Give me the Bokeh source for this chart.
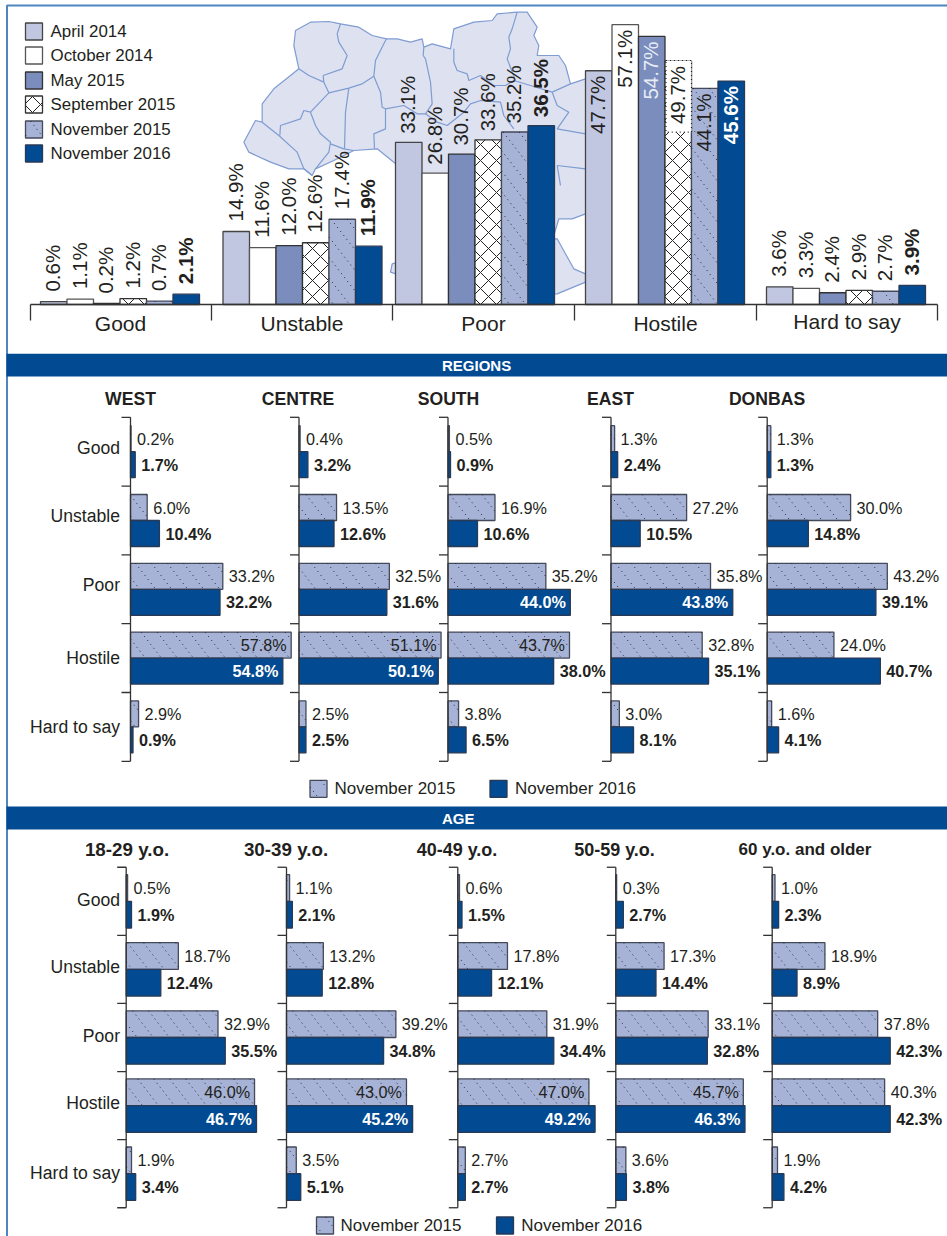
from math import pi, floor, ceil
from bokeh.core.properties import value
from bokeh.embed import file_html
from bokeh.models import Range1d
from bokeh.plotting import figure
from bokeh.resources import INLINE

# ---------- data ----------
CATEGORIES = ["Good", "Unstable", "Poor", "Hostile", "Hard to say"]
WAVES = ["April 2014", "October 2014", "May 2015", "September 2015", "November 2015", "November 2016"]
april_2014 = [0.6, 14.9, 33.1, 47.7, 3.6]
october_2014 = [1.1, 11.6, 26.8, 57.1, 3.3]
may_2015 = [0.2, 12.0, 30.7, 54.7, 2.4]
september_2015 = [1.2, 12.6, 33.6, 49.7, 2.9]
november_2015 = [0.7, 17.4, 35.2, 44.1, 2.7]
november_2016 = [2.1, 11.9, 36.5, 45.6, 3.9]

west_15 = [0.2, 6.0, 33.2, 57.8, 2.9]
west_16 = [1.7, 10.4, 32.2, 54.8, 0.9]
centre_15 = [0.4, 13.5, 32.5, 51.1, 2.5]
centre_16 = [3.2, 12.6, 31.6, 50.1, 2.5]
south_15 = [0.5, 16.9, 35.2, 43.7, 3.8]
south_16 = [0.9, 10.6, 44.0, 38.0, 6.5]
east_15 = [1.3, 27.2, 35.8, 32.8, 3.0]
east_16 = [2.4, 10.5, 43.8, 35.1, 8.1]
donbas_15 = [1.3, 30.0, 43.2, 24.0, 1.6]
donbas_16 = [1.3, 14.8, 39.1, 40.7, 4.1]

age18_15 = [0.5, 18.7, 32.9, 46.0, 1.9]
age18_16 = [1.9, 12.4, 35.5, 46.7, 3.4]
age30_15 = [1.1, 13.2, 39.2, 43.0, 3.5]
age30_16 = [2.1, 12.8, 34.8, 45.2, 5.1]
age40_15 = [0.6, 17.8, 31.9, 47.0, 2.7]
age40_16 = [1.5, 12.1, 34.4, 49.2, 2.7]
age50_15 = [0.3, 17.3, 33.1, 45.7, 3.6]
age50_16 = [2.7, 14.4, 32.8, 46.3, 3.8]
age60_15 = [1.0, 18.9, 37.8, 40.3, 1.9]
age60_16 = [2.3, 8.9, 42.3, 42.3, 4.2]

# ---------- styling / layout ----------
W, H = 947, 1236
INK = "#231F20"
NAVY = "#024A91"
C_APR, C_MAY, C_NOV = "#C1C7E1", "#7A8DBD", "#A6B3D6"
SANS = "Liberation Sans"

DOTTED = dict(fill_color=C_NOV, line_color="#444a5a", line_width=1.3)
CROSS = dict(fill_color="white", hatch_pattern="diagonal_cross", hatch_color="#222222", hatch_scale=16, hatch_weight=1, line_color="#333333", line_width=1.3)
SOLID_NAVY = dict(fill_color=NAVY, line_color="#2a3a55", line_width=1.3)
WAVE_STYLES = [
    dict(fill_color=C_APR, line_color="#444444", line_width=1.3),
    dict(fill_color="white", line_color="#555555", line_width=1.3),
    dict(fill_color=C_MAY, line_color="#333333", line_width=1.3),
    CROSS,
    DOTTED,
    SOLID_NAVY,
]

p = figure(width=W, height=H, x_range=Range1d(0, W), y_range=Range1d(H, 0), x_axis_type=None, y_axis_type=None,
           output_backend="svg", toolbar_location=None, min_border=0, outline_line_color=None, margin=0)
p.grid.visible = False


def txt(x, y, t, font=SANS, size=16, bold=False, color=INK, align="left", base="middle", **kw):
    p.text(x=x, y=y, text=t, text_font=value(font), text_font_size=value(f"{size}px"),
           text_font_style="bold" if bold else "normal", text_color=color, text_align=align, text_baseline=base, **kw)


def z(points, ox=240, oy=5):
    return [ox + a / 3 for a, _ in points], [oy + b / 3 for _, b in points]


def dotted_hatch(rects):
    """Dotted backslash lines clipped to screen rectangles (left, right, top, bottom)."""
    sx, sy = [], []
    slope, step = 0.78, 16.0
    for l, r, t, b in rects:
        c0 = floor((l - slope * b) / step)
        c1 = ceil((r - slope * t) / step)
        for c in range(c0, c1 + 1):
            cc = c * step
            y0 = max(t, (l - cc) / slope)
            y1 = min(b, (r - cc) / slope)
            if y1 - y0 > 0.5:
                sx.append([cc + slope * y0, cc + slope * y1])
                sy.append([y0, y1])
    p.multi_line(sx, sy, line_color="#1c2238", line_width=1, line_dash="1 4")


# ---------- background map (decoration) ----------
MAP_FILL, MAP_LINE = "#DDE1F0", "#7F9CD2"
outline = [(10, 410), (45, 345), (65, 350), (65, 295), (100, 250), (150, 210), (175, 190), (160, 120), (165, 75), (210, 50),
           (265, 48), (300, 55), (355, 65), (395, 90), (438, 100), (470, 100), (510, 110), (545, 100), (550, 125), (575, 115),
           (630, 130), (640, 70), (700, 50), (755, 45), (770, 25), (830, 20), (860, 20), (890, 65), (880, 90), (895, 120),
           (890, 150), (955, 150), (975, 180), (990, 235), (1035, 220), (1200, 225), (1330, 370), (1345, 470), (1250, 495), (1130, 600),
           (1035, 625), (995, 640), (955, 640), (940, 690), (700, 700), (460, 470), (410, 430), (340, 435), (280, 465), (225, 490),
           (215, 510), (190, 490), (145, 490), (90, 470), (25, 440)]
crimea = [(950, 700), (1000, 790), (1035, 805), (1035, 830), (950, 865), (700, 880), (450, 800), (455, 775), (700, 700)]
borders = [
    [(175, 190), (205, 210), (250, 230), (248, 210), (305, 190), (320, 150), (295, 110), (290, 85), (300, 55)],
    [(250, 230), (265, 262), (325, 248), (365, 235), (400, 212), (405, 165), (430, 115), (438, 100)],
    [(400, 212), (420, 260), (425, 305), (435, 310), (490, 300), (530, 325), (555, 325), (575, 295), (570, 230), (555, 160), (548, 150), (550, 125)],
    [(435, 310), (435, 370), (400, 385), (402, 430)],
    [(265, 262), (210, 320), (190, 315), (180, 340), (120, 360), (118, 390)],
    [(65, 350), (115, 390), (170, 440), (190, 490), (215, 510)],
    [(325, 248), (315, 320), (312, 430)],
    [(210, 320), (225, 360), (240, 385), (270, 410), (265, 440), (225, 490)],
    [(270, 415), (310, 430), (340, 435)],
    [(640, 130), (640, 170), (650, 195), (680, 205), (685, 225), (720, 210), (760, 240), (795, 240), (820, 225), (870, 240), (935, 260), (990, 235)],
    [(830, 20), (815, 70), (805, 95), (810, 130), (800, 160), (825, 225)],
    [(555, 325), (590, 350), (620, 360), (670, 320), (690, 295), (720, 285), (780, 290), (790, 330), (820, 370)],
    [(935, 260), (950, 300), (985, 320), (950, 370), (1035, 385), (1200, 390)],
    [(950, 480), (1035, 490), (1130, 480)],
    [(950, 480), (960, 540)],
]
xs, ys = z(outline)
p.patch(xs, ys, fill_color=MAP_FILL, line_color=MAP_LINE, line_width=1.2)
xs, ys = z(crimea)
p.patch(xs, ys, fill_color=MAP_FILL, line_color=MAP_LINE, line_width=1.2)
p.multi_line([z(b)[0] for b in borders], [z(b)[1] for b in borders], line_color=MAP_LINE, line_width=1.2)

# ---------- frame ----------
FRAME = "#4F86C0"
p.line([6.5, 6.5, W], [H, 5, 5], line_color=FRAME, line_width=2)

# ---------- top chart ----------
TOP_ZERO, TOP_K = 304.0, 4.9
p.extra_y_ranges["top"] = Range1d((TOP_ZERO - H) / TOP_K, TOP_ZERO / TOP_K)
GROUP_LEFT = [40.0, 222.5, 395.0, 585.0, 766.0]
BAR_W = 26.5
TOP_SERIES = [april_2014, october_2014, may_2015, september_2015, november_2015, november_2016]
for i, (vals, st) in enumerate(zip(TOP_SERIES, WAVE_STYLES)):
    x = [g + BAR_W * (i + 0.5) for g in GROUP_LEFT]
    p.vbar(x=x, width=BAR_W, top=vals, bottom=0, y_range_name="top", **st)
    if st is DOTTED:
        dotted_hatch([(g + BAR_W * i, g + BAR_W * (i + 1), TOP_ZERO - TOP_K * v, TOP_ZERO) for g, v in zip(GROUP_LEFT, vals)])

# white plate behind the 49.7% label
p.quad(left=665.5, right=691, top=60, bottom=131.7, fill_color="white", line_color="#222222", line_width=1.2, line_dash="1 3")

for i, vals in enumerate(TOP_SERIES):
    bold = i == 5
    for g, v in enumerate(vals):
        x = GROUP_LEFT[g] + BAR_W * (i + 0.5) - 0.8
        inside = g == 3
        colour = "white" if inside and i == 5 else INK
        if i == 2 and inside:
            colour = "#E8ECF6"
        gap = 8.5 if g == 2 else 10
        txt([x], [v], [f"{v:.1f}%"], size=20.5, bold=bold, color=colour,
            align="right" if inside else "left", angle=pi / 2, y_range_name="top",
            y_offset=5 if inside else -gap)

AXIS_COL = "#333333"
TICKS_X = [30, 211, 392, 574, 756, 937]
p.segment(x0=30, x1=937, y0=304, y1=304, line_color=AXIS_COL, line_width=1.3)
p.segment(x0=TICKS_X, x1=TICKS_X, y0=[304] * 6, y1=[320] * 6, line_color=AXIS_COL, line_width=1.3)
CAT_X = [120, 301.5, 483, 665, 846.5]
CAT_Y = [322.5, 322.5, 322.5, 322.5, 320.5]
for cx, cy, c in zip(CAT_X, CAT_Y, CATEGORIES):
    txt([cx], [cy], [c], size=21, align="center")

# top legend
LEG_Y = [31, 55, 80, 104, 129, 153]
for yy, name, st in zip(LEG_Y, WAVES, WAVE_STYLES):
    p.quad(left=25, right=42, top=yy - 8.5, bottom=yy + 8.5, **st)
    if st is DOTTED:
        dotted_hatch([(25, 42, yy - 8.5, yy + 8.5)])
    txt([50], [yy], [name], size=16.9)


# ---------- panels ----------
def panel_set(prefix, zeros, k, row0, row_h, bar_h, titles, title_x, title_y, title_sizes, series, inside15, inside16, label_x, label_dy):
    ry = f"{prefix}_rows"
    p.extra_y_ranges[ry] = Range1d((H - row0) / row_h, -row0 / row_h)
    rows = list(range(5))
    for n, (x0, title, tx, (s15, s16)) in enumerate(zip(zeros, titles, title_x, series)):
        rx = f"{prefix}{n}"
        p.extra_x_ranges[rx] = Range1d(-x0 / k, (W - x0) / k)
        off = bar_h / row_h / 2
        p.hbar(y=[r - off for r in rows], height=bar_h / row_h, left=0, right=s15, x_range_name=rx, y_range_name=ry, **DOTTED)
        dotted_hatch([(x0, x0 + k * v, row0 + row_h * r - bar_h, row0 + row_h * r) for r, v in zip(rows, s15)])
        p.hbar(y=[r + off for r in rows], height=bar_h / row_h, left=0, right=s16, x_range_name=rx, y_range_name=ry, **SOLID_NAVY)
        # axis line and ticks
        p.segment(x0=0, x1=0, y0=-0.5, y1=4.5, x_range_name=rx, y_range_name=ry, line_color=AXIS_COL, line_width=1.3)
        tick_rows = [r - 0.5 for r in range(6)]
        p.segment(x0=[x0 - 9] * 6, x1=[x0] * 6, y0=[row0 + row_h * t for t in tick_rows], y1=[row0 + row_h * t for t in tick_rows], line_color=AXIS_COL, line_width=1.3)
        for r in rows:
            for vals, y, bold, ins in ((s15, r - off, False, inside15), (s16, r + off, True, inside16)):
                v = vals[r]
                is_in = (n, r) in ins
                txt([v], [y], [f"{v:.1f}%"], size=16.2, bold=bold, color="white" if is_in and bold else INK,
                    align="right" if is_in else "left", x_offset=-4.5 if is_in else 6,
                    x_range_name=rx, y_range_name=ry)
        txt([tx], [title_y], [title], size=title_sizes[n], bold=True, align="center")
    for c, lx, dy, r in zip(CATEGORIES, label_x, label_dy, rows):
        txt([lx], [row0 + row_h * r + dy], [c], size=17.6, align="right")


REG_INSIDE15 = {(0, 3), (1, 3), (2, 3)}
REG_INSIDE16 = {(0, 3), (1, 3), (2, 2), (3, 2)}
panel_set("reg", [130, 298.5, 447.5, 610.5, 766.7], 2.78, 451.2, 68.8, 26,
          ["WEST", "CENTRE", "SOUTH", "EAST", "DONBAS"], [130, 297.5, 448, 610, 766.5], 398.5, [17.6] * 5,
          [(west_15, west_16), (centre_15, centre_16), (south_15, south_16), (east_15, east_16), (donbas_15, donbas_16)],
          REG_INSIDE15, REG_INSIDE16, [119.5] * 5, [-3.5, -5, -4, 0, 0])

AGE_INSIDE15 = {(0, 3), (1, 3), (2, 3), (3, 3)}
AGE_INSIDE16 = {(0, 3), (1, 3), (2, 3), (3, 3)}
panel_set("age", [125.7, 286, 457.3, 615.3, 771.7], 2.79, 900.8, 68.1, 26.7,
          ["18-29 y.o.", "30-39 y.o.", "40-49 y.o.", "50-59 y.o.", "60 y.o. and older"], [126.5, 285.5, 456.5, 614, 804.5], 849, [18.8, 18.8, 18, 18, 17],
          [(age18_15, age18_16), (age30_15, age30_16), (age40_15, age40_16), (age50_15, age50_16), (age60_15, age60_16)],
          AGE_INSIDE15, AGE_INSIDE16, [119.5] * 5, [-1.5, -2, -1.5, -2.5, -0.5])

# ---------- bands ----------
for top, bottom, label in ((353.3, 376, "REGIONS"), (806, 829, "AGE")):
    p.quad(left=6, right=W, top=top, bottom=bottom, fill_color=NAVY, line_color=None)
    txt([441.5], [(top + bottom) / 2 + 0.5], [label], size=15, bold=True, color="white")

# ---------- panel legends ----------
for yy, x1, t1, x2, t2 in ((788.3, 309.5, 334, 489.5, 514.5), (1225, 316, 340, 496, 520.7)):
    p.quad(left=x1, right=x1 + 17, top=yy - 8.5, bottom=yy + 8.5, **DOTTED)
    dotted_hatch([(x1, x1 + 17, yy - 8.5, yy + 8.5)])
    txt([t1], [yy], ["November 2015"], size=17)
    p.quad(left=x2, right=x2 + 17, top=yy - 8.5, bottom=yy + 8.5, **SOLID_NAVY)
    txt([t2], [yy], ["November 2016"], size=17)

open("out.html", "w").write(file_html(p, INLINE))
